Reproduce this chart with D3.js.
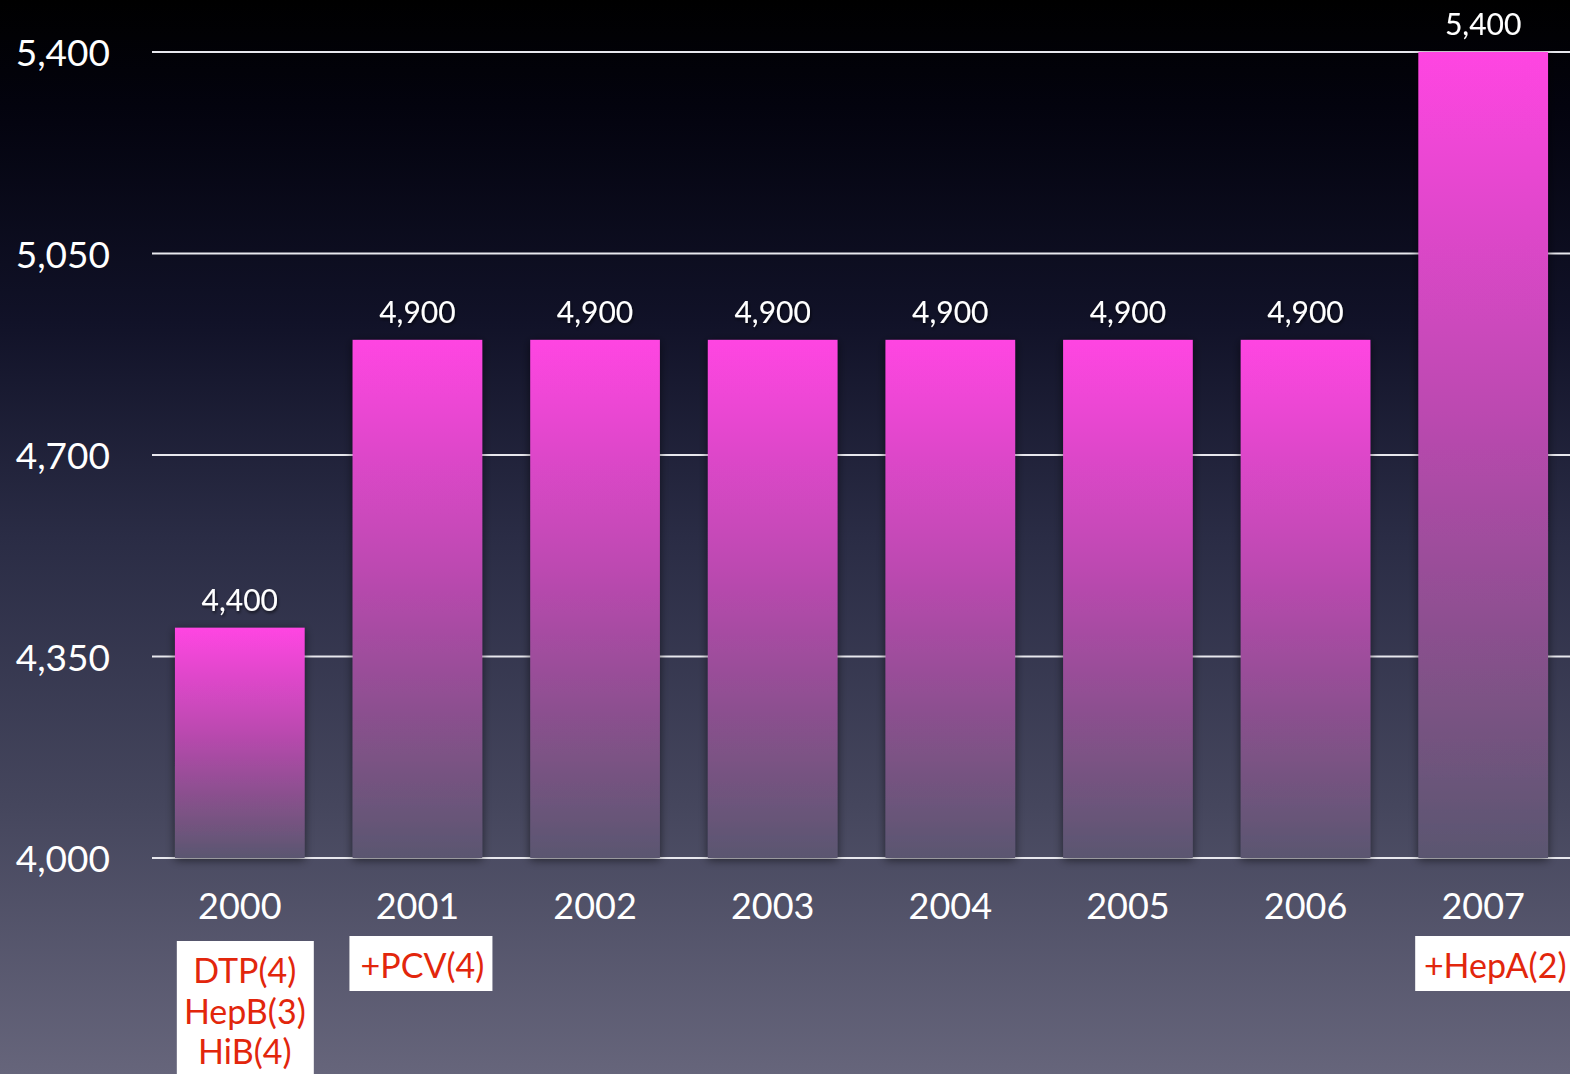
<!DOCTYPE html>
<html>
<head>
<meta charset="utf-8">
<script src="https://cdn.jsdelivr.net/npm/d3@7"></script>
<style>
  html, body { margin: 0; padding: 0; background: #000; }
  svg { display: block; }
  text { font-family: Lato, "Open Sans", sans-serif; }
</style>
</head>
<body>
<svg class="main"></svg>
<script>
var years = ["2000", "2001", "2002", "2003", "2004", "2005", "2006", "2007"],
    doses = [4400, 4900, 4900, 4900, 4900, 4900, 4900, 5400],
    ticks = [4000, 4350, 4700, 5050, 5400];

// vaccines added in a given year (index into years)
var notes = [
    {i: 0, lines: ["DTP(4)", "HepB(3)", "HiB(4)"]},
    {i: 1, lines: ["+PCV(4)"]},
    {i: 7, lines: ["+HepA(2)"]}
];

var width = 1570,
    height = 1074;

var svg = d3.select(".main")
    .attr("width", width)
    .attr("height", height);

var defs = svg.append("defs");

var bg = defs.append("linearGradient")
    .attr("id", "bg")
    .attr("x1", 0).attr("y1", 0).attr("x2", 0).attr("y2", 1);
[[0, "#000000"], [0.1, "#03030e"], [0.3, "#111228"], [0.5, "#2a2c45"],
 [0.75, "#45465d"], [1, "#66657b"]].forEach(function(s) {
    bg.append("stop").attr("offset", s[0]).attr("stop-color", s[1]);
});

var bar = defs.append("linearGradient")
    .attr("id", "bar")
    .attr("x1", 0).attr("y1", 0).attr("x2", 0).attr("y2", 1);
[[0, "#ff45e2"], [0.45, "#bb49b0"], [0.8, "#7d5285"], [1, "#5a5670"]].forEach(function(s) {
    bar.append("stop").attr("offset", s[0]).attr("stop-color", s[1]);
});

var shadow = defs.append("filter")
    .attr("id", "shadow")
    .attr("x", "-20%").attr("y", "-20%").attr("width", "140%").attr("height", "140%");
shadow.append("feDropShadow")
    .attr("dx", 0).attr("dy", 2)
    .attr("stdDeviation", 5)
    .attr("flood-color", "#000")
    .attr("flood-opacity", 0.55);

var txtShadow = defs.append("filter").attr("id", "txtshadow");
txtShadow.append("feDropShadow")
    .attr("dx", 1).attr("dy", 2)
    .attr("stdDeviation", 1.5)
    .attr("flood-color", "#000")
    .attr("flood-opacity", 0.6);

svg.append("rect")
    .attr("width", width)
    .attr("height", height)
    .attr("fill", "url(#bg)");

var x = d3.scaleBand()
    .domain(years)
    .range([151, 1572])
    .paddingInner(0.27)
    .paddingOuter(0.135);

var y = d3.scaleLinear()
    .domain([4000, 5400])
    .range([858, 52]);

// gridlines
svg.append("g")
    .selectAll("line")
    .data(ticks)
    .join("line")
    .attr("x1", 152)
    .attr("x2", width)
    .attr("y1", function(d) { return y(d); })
    .attr("y2", function(d) { return y(d); })
    .attr("stroke", "#e8e8ee")
    .attr("stroke-width", 2);

// y tick labels
svg.append("g")
    .selectAll("text")
    .data(ticks)
    .join("text")
    .attr("x", 110)
    .attr("y", function(d) { return y(d); })
    .attr("dy", "0.38em")
    .attr("text-anchor", "end")
    .attr("fill", "#fff")
    .attr("font-size", 37)
    .text(d3.format(","));

// bars
svg.append("g")
    .selectAll("rect")
    .data(doses)
    .join("rect")
    .attr("x", function(d, i) { return x(years[i]); })
    .attr("y", function(d) { return y(d); })
    .attr("width", x.bandwidth())
    .attr("height", function(d) { return y(4000) - y(d); })
    .attr("fill", "url(#bar)")
    .attr("filter", "url(#shadow)");

// value labels
svg.append("g")
    .selectAll("text")
    .data(doses)
    .join("text")
    .attr("x", function(d, i) { return x(years[i]) + x.bandwidth() / 2; })
    .attr("y", function(d) { return y(d) - 17; })
    .attr("text-anchor", "middle")
    .attr("fill", "#fff")
    .attr("font-size", 30)
    .attr("filter", "url(#txtshadow)")
    .text(d3.format(","));

// year labels
svg.append("g")
    .selectAll("text")
    .data(years)
    .join("text")
    .attr("x", function(d) { return x(d) + x.bandwidth() / 2; })
    .attr("y", 919)
    .attr("text-anchor", "middle")
    .attr("fill", "#fff")
    .attr("font-size", 36)
    .text(function(d) { return d; });

// annotation boxes
var lineH = 40.5;
var note = svg.append("g")
    .selectAll("g")
    .data(notes)
    .join("g")
    .attr("transform", function(d) {
        var cx = x(years[d.i]) + x.bandwidth() / 2;
        var top = d.lines.length > 1 ? 941 : 936;
        return "translate(" + cx + "," + top + ")";
    });

note.append("rect")
    .attr("x", function(d) { return d.lines.length > 1 ? -63 : -68; })
    .attr("y", 0)
    .attr("width", function(d) { return d.lines.length > 1 ? 137 : (d.i === 7 ? 160 : 143); })
    .attr("height", function(d) { return d.lines.length > 1 ? 140 : 55; })
    .attr("fill", "#fff");

note.each(function(d) {
    var g = d3.select(this);
    var offset = d.i === 0 ? 5 : (d.i === 7 ? 12 : 5);
    g.selectAll("text")
        .data(d.lines)
        .join("text")
        .attr("x", offset)
        .attr("y", function(t, k) { return 42 + k * lineH; })
        .attr("text-anchor", "middle")
        .attr("fill", "#e2260c")
        .attr("font-size", 34)
        .text(function(t) { return t; });
});
</script>
</body>
</html>
